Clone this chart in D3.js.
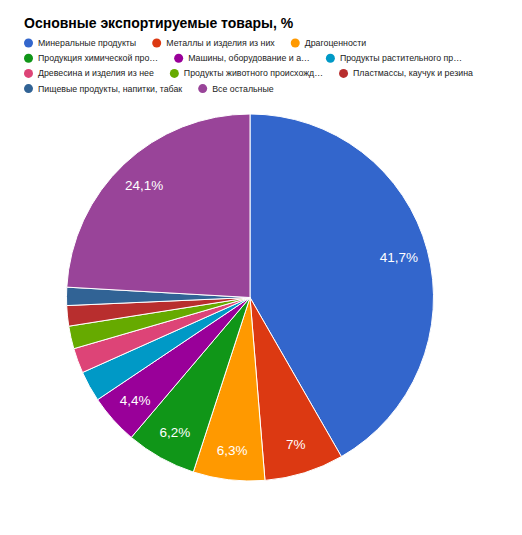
<html>
<head>
    <meta charset="utf-8">
    <title>export pie</title>
</head>
<body style="margin: 0; background: #fff;">
    <svg style="position: absolute; left: 0; top: 0;"></svg>
</body>

<script src="https://cdn.jsdelivr.net/npm/d3@7"></script>
<script>
const width = 522;
const height = 535;

const title = "Основные экспортируемые товары, %";

// legend text as shown (google truncates long names)
const labels = [
    "Минеральные продукты",
    "Металлы и изделия из них",
    "Драгоценности",
    "Продукция химической про…",
    "Машины, оборудование и а…",
    "Продукты растительного пр…",
    "Древесина и изделия из нее",
    "Продукты животного происхожд…",
    "Пластмассы, каучук и резина",
    "Пищевые продукты, напитки, табак",
    "Все остальные",
];
const values = [41.7, 7, 6.3, 6.2, 4.4, 2.7, 2.2, 2.0, 1.8, 1.6, 24.1];
const colors = ["#3366cc", "#dc3912", "#ff9900", "#109618", "#990099",
    "#0099c6", "#dd4477", "#66aa00", "#b82e2e", "#316395", "#994499"];

const font = "Arial, 'Liberation Sans', sans-serif";
const cx = 250, cy = 297.5, r = 183.5;

const svg = d3.select("svg")
    .attr("width", width)
    .attr("height", height)
    .style("font-family", font);

svg.append("text")
    .attr("x", 24)
    .attr("y", 28)
    .attr("font-size", 14)
    .attr("font-weight", "bold")
    .attr("fill", "#000")
    .text(title);

// legend, simple flow layout
const legend = svg.append("g");
let lx = 28.5, ly = 43;
labels.forEach((d, i) => {
    const item = legend.append("g");
    item.append("circle")
        .attr("r", 4.5)
        .attr("fill", colors[i]);
    const t = item.append("text")
        .attr("x", 9.5)
        .attr("dy", "0.35em")
        .attr("font-size", 8.8)
        .attr("fill", "#222")
        .text(d);
    const w = t.node().getComputedTextLength();
    if (lx + 9.5 + w > 495) {
        lx = 28.5;
        ly += 15.2;
    }
    item.attr("transform", `translate(${lx},${ly})`);
    lx += 9.5 + w + 20.5;
});

const pie = d3.pie().sort(null).value(d => d);
const arcs = pie(values);
const arc = d3.arc().innerRadius(0).outerRadius(r);
const labelArc = d3.arc().innerRadius(r * 0.84).outerRadius(r * 0.84);

const g = svg.append("g").attr("transform", `translate(${cx},${cy})`);

g.selectAll("path")
    .data(arcs)
    .join("path")
        .attr("d", arc)
        .attr("fill", (d, i) => colors[i])
        .attr("stroke", "#fff")
        .attr("stroke-width", 1);

const fmt = v => String(v).replace(".", ",") + "%";

g.selectAll("text.lbl")
    .data(arcs.filter(d => d.data >= 4))
    .join("text")
        .attr("class", "lbl")
        .attr("transform", d => `translate(${labelArc.centroid(d)})`)
        .attr("text-anchor", "middle")
        .attr("dy", "0.35em")
        .attr("font-size", 13.5)
        .attr("fill", "#fff")
        .text(d => fmt(d.data));
</script>
</html>
